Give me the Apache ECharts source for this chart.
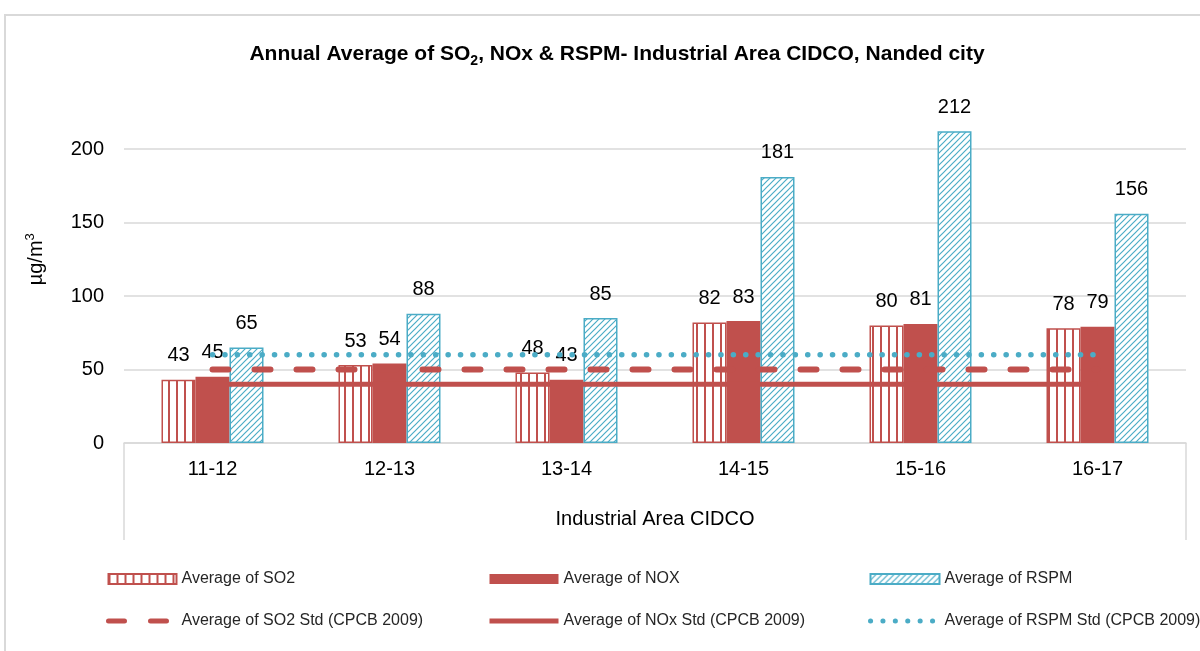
<!DOCTYPE html>
<html>
<head>
<meta charset="utf-8">
<script src="https://cdn.jsdelivr.net/npm/echarts@6/dist/echarts.min.js"></script>
<style>html,body{margin:0;padding:0;background:#fff}#c{width:1200px;height:651px}</style>
</head>
<body>
<div id="c"></div>
<script>
const categories = ['11-12', '12-13', '13-14', '14-15', '15-16', '16-17'];
const so2 = [43, 53, 48, 82, 80, 78];
const nox = [45, 54, 43, 83, 81, 79];
const rspm = [65, 88, 85, 181, 212, 156];
const so2Std = [50, 50, 50, 50, 50, 50];
const noxStd = [40, 40, 40, 40, 40, 40];
const rspmStd = [60, 60, 60, 60, 60, 60];
const yTicks = [0, 50, 100, 150, 200, 250];

const RED = '#C0504D';
const AQUA = '#4BACC6';
const FONT = "'Liberation Sans Narrow', 'Arial Narrow', 'Liberation Sans', Arial, sans-serif";
const CLEAR = 'rgba(0,0,0,0)';

function vPattern() {
  const c = document.createElement('canvas');
  c.width = 8; c.height = 8;
  const g = c.getContext('2d');
  g.fillStyle = '#fff'; g.fillRect(0, 0, 8, 8);
  g.fillStyle = RED; g.fillRect(0, 0, 2, 8);
  return c;
}
function dPattern() {
  const s = 6;
  const c = document.createElement('canvas');
  c.width = s; c.height = s;
  const g = c.getContext('2d');
  g.fillStyle = '#fff'; g.fillRect(0, 0, s, s);
  g.strokeStyle = AQUA; g.lineWidth = 1.2;
  g.beginPath();
  g.moveTo(-1, s + 1); g.lineTo(s + 1, -1);
  g.moveTo(-1, 1); g.lineTo(1, -1);
  g.moveTo(s - 1, s + 1); g.lineTo(s + 1, s - 1);
  g.stroke();
  return c;
}
const so2Fill = { image: vPattern(), repeat: 'repeat' };
const rspmFill = { image: dPattern(), repeat: 'repeat' };

const chart = echarts.init(document.getElementById('c'));
const labelStyle = { show: true, position: 'top', distance: 14, fontSize: 20, color: '#000', fontFamily: FONT };
function legendAt(left, width, barName, lineName) {
  return {
    left: left, top: 571, orient: 'vertical', itemWidth: width, itemHeight: 10, itemGap: 26, padding: 0,
    textStyle: { fontSize: 16, color: '#262626', fontFamily: FONT },
    lineStyle: { width: 5 },
    data: [{ name: barName, icon: 'rect' }, lineName]
  };
}

chart.setOption({
  backgroundColor: '#fff',
  animation: false,
  title: {
    text: 'Annual Average of SO{sub|2}, NOx & RSPM- Industrial Area CIDCO, Nanded city',
    left: 612, textAlign: 'center', top: 35,
    textStyle: {
      fontSize: 21, fontWeight: 'bold', color: '#000', fontFamily: FONT, lineHeight: 28,
      rich: { sub: { fontSize: 14, fontWeight: 'bold', fontFamily: FONT, verticalAlign: 'bottom', lineHeight: 28 } }
    }
  },
  grid: { left: 124, right: 14, top: 75.5, bottom: 208, containLabel: false },
  xAxis: {
    type: 'category', data: categories,
    name: 'Industrial Area CIDCO', nameLocation: 'middle', nameGap: 66,
    nameTextStyle: { fontSize: 20, color: '#000', fontFamily: FONT },
    axisLine: { lineStyle: { color: '#d9d9d9', width: 1.5 } },
    axisTick: { show: false },
    axisLabel: { fontSize: 20, color: '#000', fontFamily: FONT, margin: 16 }
  },
  yAxis: {
    type: 'value', min: yTicks[0], max: yTicks[yTicks.length - 1], interval: 50,
    name: 'µg/m{sup|3}', nameLocation: 'middle', nameGap: 76, nameRotate: 90,
    nameTextStyle: { fontSize: 20, color: '#000', fontFamily: FONT, lineHeight: 24,
      rich: { sup: { fontSize: 13, fontFamily: FONT, verticalAlign: 'top', lineHeight: 24 } } },
    axisLine: { show: false }, axisTick: { show: false },
    axisLabel: { fontSize: 20, color: '#000', fontFamily: FONT, margin: 20, showMaxLabel: false },
    splitLine: { showMaxLine: false, lineStyle: { color: '#d9d9d9', width: 1.5 } }
  },
  legend: [
    legendAt(106, 68, 'Average of SO2', 'Average of SO2 Std (CPCB 2009)'),
    legendAt(487, 69, 'Average of NOX', 'Average of NOx Std (CPCB 2009)'),
    legendAt(868, 69, 'Average of RSPM', 'Average of RSPM Std (CPCB 2009)')
  ],
  series: [
    { name: 'Average of SO2', type: 'bar', data: so2, barWidth: 34, barGap: '0%',
      itemStyle: { color: so2Fill, borderColor: RED, borderWidth: 1.5 }, label: labelStyle },
    { name: 'Average of NOX', type: 'bar', data: nox, barWidth: 34, barGap: '0%',
      itemStyle: { color: RED }, label: labelStyle },
    { name: 'Average of RSPM', type: 'bar', data: rspm, barWidth: 34, barGap: '0%',
      itemStyle: { color: rspmFill, borderColor: AQUA, borderWidth: 1.5 }, label: labelStyle },
    { name: 'Average of SO2 Std (CPCB 2009)', type: 'line', data: so2Std, symbol: 'circle', showSymbol: false, z: 5,
      lineStyle: { color: RED, width: 6, type: [16, 26], cap: 'round' }, itemStyle: { color: CLEAR, borderColor: CLEAR } },
    { name: 'Average of NOx Std (CPCB 2009)', type: 'line', data: noxStd, symbol: 'circle', showSymbol: false, z: 5,
      lineStyle: { color: RED, width: 5, type: 'solid' }, itemStyle: { color: CLEAR, borderColor: CLEAR } },
    { name: 'Average of RSPM Std (CPCB 2009)', type: 'line', data: rspmStd, symbol: 'circle', showSymbol: false, z: 5,
      lineStyle: { color: AQUA, width: 5.5, type: [0.1, 12.3], cap: 'round' }, itemStyle: { color: CLEAR, borderColor: CLEAR } }
  ],
  graphic: [
    { type: 'rect', shape: { x: 5, y: 15, width: 1300, height: 800 }, style: { fill: null, stroke: '#d9d9d9', lineWidth: 2 }, silent: true },
    { type: 'line', shape: { x1: 124, y1: 443, x2: 124, y2: 540 }, style: { stroke: '#d9d9d9', lineWidth: 1.5 }, silent: true },
    { type: 'line', shape: { x1: 1186, y1: 443, x2: 1186, y2: 540 }, style: { stroke: '#d9d9d9', lineWidth: 1.5 }, silent: true }
  ]
});
</script>
</body>
</html>
